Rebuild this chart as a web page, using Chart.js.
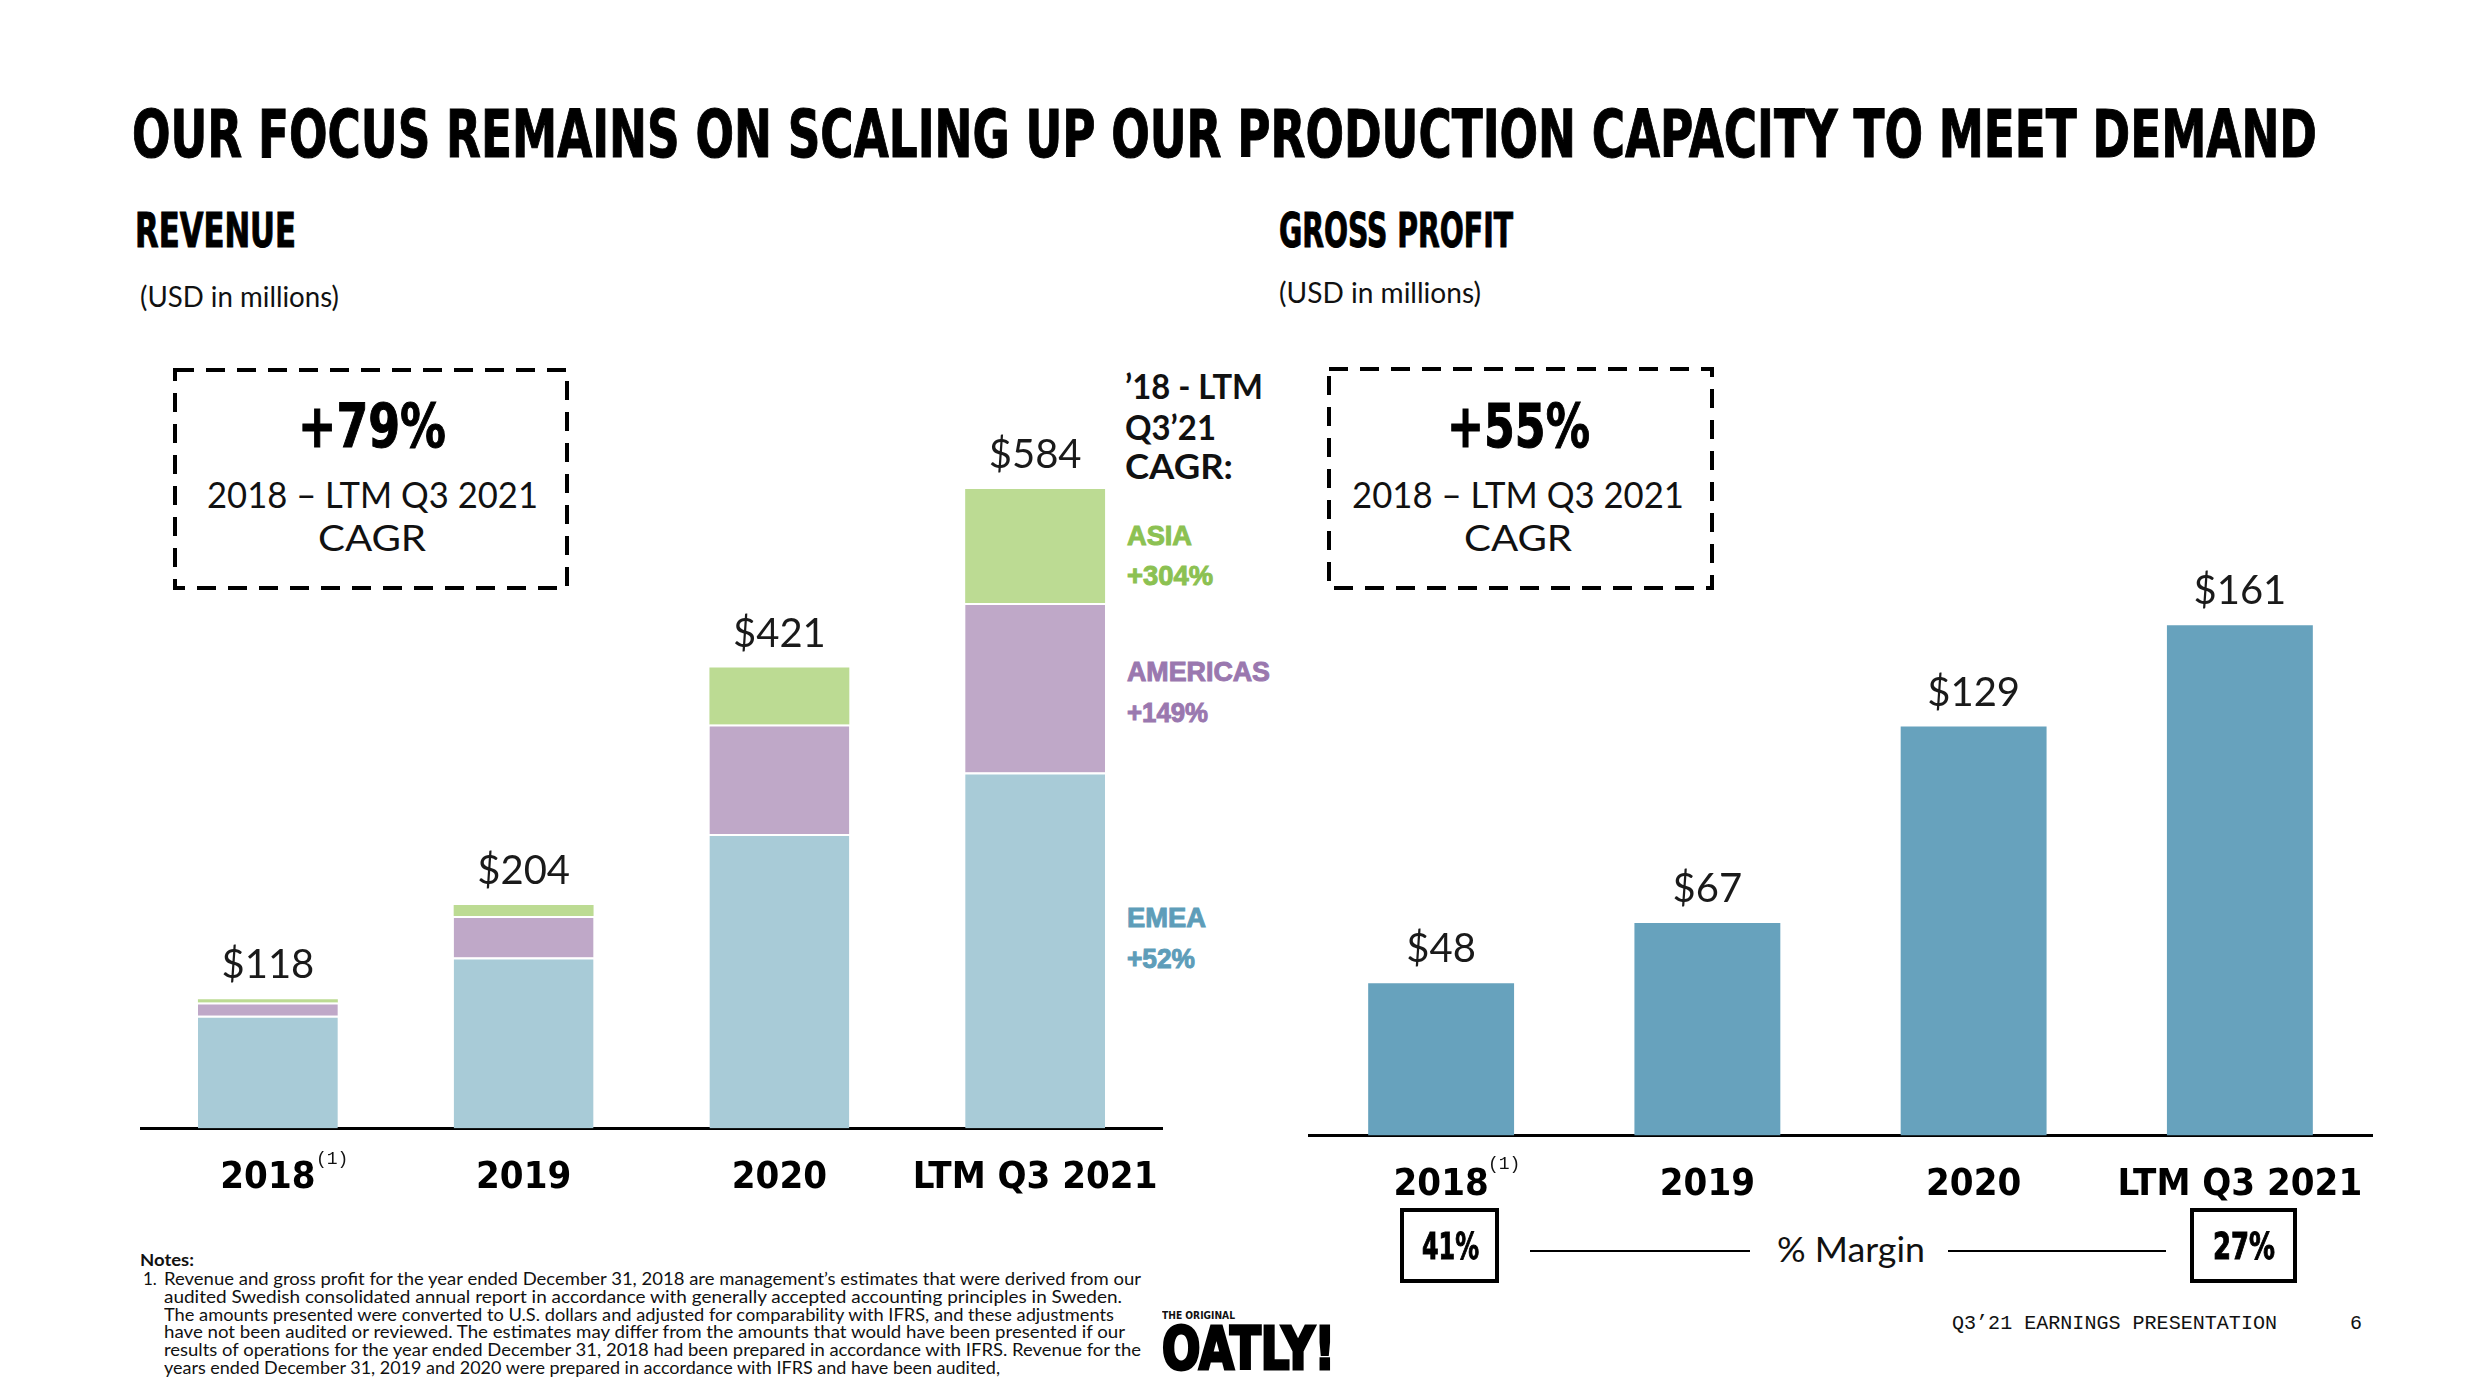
<!DOCTYPE html>
<html>
<head>
<meta charset="utf-8">
<script src="https://cdn.jsdelivr.net/npm/chart.js@4.4.0/dist/chart.umd.min.js"></script>
<style>
  html, body { margin: 0; padding: 0; background: #fff; }
  body { width: 2492px; height: 1400px; position: relative; overflow: hidden; font-family: Lato, 'Open Sans', sans-serif; color: #111; }
  .t { position: absolute; white-space: nowrap; line-height: 1; transform-origin: left center; }
  .heavy { font-family: 'Liberation Sans Narrow', 'DejaVu Sans Condensed', 'Arial Narrow', sans-serif; font-weight: 700; -webkit-text-stroke: 1px #000; color: #000; }
  .geo { font-family: Lato, 'Open Sans', sans-serif; font-weight: 400; }
  .chartBox { position: absolute; }
  .mbox { position: absolute; border: 4px solid #000; box-sizing: border-box; }
  .rule { position: absolute; height: 2px; background: #000; }
</style>
</head>
<body>

<!-- headings -->
<div class="t heavy" style="left:132px; top:102px; font-size:66px;" data-w="2185">OUR FOCUS REMAINS ON SCALING UP OUR PRODUCTION CAPACITY TO MEET DEMAND</div>
<div class="t heavy" style="left:135px; top:206px; font-size:48px;" data-w="161">REVENUE</div>
<div class="t heavy" style="left:1279px; top:206px; font-size:48px;" data-w="234">GROSS PROFIT</div>
<div class="t geo" style="left:140px; top:282px; font-size:28px;" data-w="199">(USD in millions)</div>
<div class="t geo" style="left:1279px; top:278px; font-size:28px;" data-w="202">(USD in millions)</div>

<!-- dashed CAGR boxes -->
<svg style="position:absolute; left:0; top:0;" width="2492" height="1400">
  <rect x="175" y="370" width="392" height="218" fill="none" stroke="#000" stroke-width="4" stroke-dasharray="19 12"/>
  <rect x="1329" y="369" width="383" height="219" fill="none" stroke="#000" stroke-width="4" stroke-dasharray="19 12"/>
</svg>
<div class="t heavy" style="top:396px; font-size:60px;" data-w="148" data-cx="372">+79%</div>
<div class="t geo" style="top:476px; font-size:36px;" data-w="331" data-cx="372">2018 – LTM Q3 2021</div>
<div class="t geo" style="top:519px; font-size:36px;" data-w="108" data-cx="372">CAGR</div>
<div class="t heavy" style="top:396px; font-size:60px;" data-w="143" data-cx="1518">+55%</div>
<div class="t geo" style="top:476px; font-size:36px;" data-w="332" data-cx="1518">2018 – LTM Q3 2021</div>
<div class="t geo" style="top:519px; font-size:36px;" data-w="108" data-cx="1518">CAGR</div>

<!-- region CAGR legend -->
<div class="t" style="left:1125px; top:369px; font-size:34px; font-weight:700;" data-w="138">’18 - LTM</div>
<div class="t" style="left:1125px; top:410px; font-size:34px; font-weight:700;" data-w="91">Q3’21</div>
<div class="t" style="left:1125px; top:449px; font-size:34px; font-weight:700;" data-w="108">CAGR:</div>
<div id="legend"></div>

<!-- charts -->
<div class="chartBox" style="left:140px; top:300px; width:1023px; height:904px;"><canvas id="revenueChart"></canvas></div>
<div class="chartBox" style="left:1308px; top:300px; width:1065px; height:911px;"><canvas id="profitChart"></canvas></div>
<div class="t" style="left:316px; top:1150px; font-size:18px; font-family:'Liberation Mono', monospace;">(1)</div>
<div class="t" style="left:1488px; top:1155px; font-size:18px; font-family:'Liberation Mono', monospace;">(1)</div>

<!-- margin row -->
<div class="mbox" style="left:1400px; top:1208px; width:99px; height:75px;"></div>
<div class="mbox" style="left:2190px; top:1208px; width:107px; height:75px;"></div>
<div class="t heavy" style="top:1227px; font-size:38px;" data-w="57" data-cx="1450" id="m0"></div>
<div class="t heavy" style="top:1227px; font-size:38px;" data-w="62" data-cx="2244" id="m1"></div>
<div class="rule" style="left:1530px; top:1250px; width:220px;"></div>
<div class="rule" style="left:1948px; top:1250px; width:218px;"></div>
<div class="t geo" style="top:1232px; font-size:34px;" data-w="148" data-cx="1851">% Margin</div>

<!-- notes -->
<div id="notes"></div>

<!-- logo + footer -->
<div class="t" style="left:1162px; top:1311px; font-size:10px; font-weight:900; font-family:'DejaVu Sans';" data-w="73">THE ORIGINAL</div>
<div class="t heavy" style="left:1162px; top:1320px; font-size:58px; -webkit-text-stroke:3px #000;" data-w="173">OATLY!</div>
<div class="t" style="left:1952px; top:1314px; font-size:20px; font-family:'Liberation Mono', monospace;" data-w="325">Q3’21 EARNINGS PRESENTATION</div>
<div class="t" style="left:2350px; top:1314px; font-size:20px; font-family:'Liberation Mono', monospace;">6</div>

<script>
const periods = ['2018', '2019', '2020', 'LTM Q3 2021'];
const emea = [103, 156, 269, 325];
const americas = [12, 38, 100, 155];
const asia = [3, 10, 52, 104];
const revenueTotals = [118, 204, 421, 584];
const grossProfit = [48, 67, 129, 161];
const marginLabels = ['41%', '27%'];
const regionNames = ['ASIA', 'AMERICAS', 'EMEA'];
const regionCagr = ['+304%', '+149%', '+52%'];

const BLUE = '#a8cbd7';
const PURPLE = '#bfa8c8';
const GREEN = '#bcdb93';
const PROFIT_BLUE = '#67a2bd';
const regionColors = ['#8cc152', '#9a78af', '#5e9db9'];
const legendTops = [[522, 562], [658, 699], [904, 945]];
const legendWidths = [[65, 86], [143, 81], [79, 68]];

const noteLines = [
  'Revenue and gross profit for the year ended December 31, 2018 are management’s estimates that were derived from our',
  'audited Swedish consolidated annual report in accordance with generally accepted accounting principles in Sweden.',
  'The amounts presented were converted to U.S. dollars and adjusted for comparability with IFRS, and these adjustments',
  'have not been audited or reviewed. The estimates may differ from the amounts that would have been presented if our',
  'results of operations for the year ended December 31, 2018 had been prepared in accordance with IFRS. Revenue for the',
  'years ended December 31, 2019 and 2020 were prepared in accordance with IFRS and have been audited,'
];
const noteWidths = [977, 958, 950, 961, 977, 836];

// legend text
const legend = document.getElementById('legend');
regionNames.forEach((name, i) => {
  [name, regionCagr[i]].forEach((txt, j) => {
    const d = document.createElement('div');
    d.className = 't';
    d.textContent = txt;
    d.style.cssText = `left:1127px; top:${legendTops[i][j]}px; font-size:28px; font-weight:700; font-family:'Liberation Sans', Arial, sans-serif; color:${regionColors[i]}; -webkit-text-stroke:1px ${regionColors[i]};`;
    d.dataset.w = legendWidths[i][j];
    legend.appendChild(d);
  });
});

// notes
const notes = document.getElementById('notes');
notes.innerHTML = `<div class="t" style="left:140px; top:1251px; font-size:17px; font-weight:700;" data-w="54">Notes:</div>
  <div class="t" style="left:143px; top:1270px; font-size:17px;">1.</div>`;
noteLines.forEach((line, i) => {
  const d = document.createElement('div');
  d.className = 't';
  d.textContent = line;
  d.style.cssText = `left:164px; top:${1270 + i * 17.8}px; font-size:17px;`;
  d.dataset.w = noteWidths[i];
  notes.appendChild(d);
});

document.getElementById('m0').textContent = marginLabels[0];
document.getElementById('m1').textContent = marginLabels[1];

// squeeze text to the widths measured on the slide
document.querySelectorAll('[data-w]').forEach(el => {
  const w = el.getBoundingClientRect().width;
  const target = parseFloat(el.dataset.w);
  el.style.transform = `scaleX(${target / w})`;
  if (el.dataset.cx) el.style.left = (parseFloat(el.dataset.cx) - target / 2) + 'px';
});

const tickFont = { family: "'Liberation Sans Narrow', 'DejaVu Sans Condensed', sans-serif", size: 38, weight: 'bold' };

const valueLabels = {
  id: 'valueLabels',
  afterDatasetsDraw(chart, args, opts) {
    const { ctx, scales: { x, y } } = chart;
    ctx.save();
    ctx.font = '40px Lato';
    ctx.fillStyle = '#1a1a1a';
    ctx.textAlign = 'center';
    ctx.textBaseline = 'alphabetic';
    opts.values.forEach((v, i) => {
      const cx = x.getPixelForValue(i);
      const capMid = y.getPixelForValue(v) - 35;
      ctx.fillText('$' + v, cx, capMid + 14);
    });
    ctx.restore();
  }
};

// tick marks are hidden but their length keeps the labels clear of the axis line
function xAxis() {
  return {
    stacked: true,
    grid: { display: false, drawTicks: true, tickLength: 24 },
    border: { display: true, color: '#000', width: 3 },
    ticks: { color: '#000', font: tickFont, padding: 3, maxRotation: 0, minRotation: 0, autoSkip: false }
  };
}

const segBorder = { top: 2, right: 0, bottom: 0, left: 0 };

new Chart(document.getElementById('revenueChart'), {
  type: 'bar',
  data: {
    labels: periods,
    datasets: [
      { label: 'EMEA', data: emea, backgroundColor: BLUE, borderColor: '#fff', borderWidth: segBorder },
      { label: 'Americas', data: americas, backgroundColor: PURPLE, borderColor: '#fff', borderWidth: segBorder },
      { label: 'Asia', data: asia, backgroundColor: GREEN, borderWidth: 0 }
    ]
  },
  options: {
    responsive: true,
    maintainAspectRatio: false,
    animation: false,
    layout: { padding: 0 },
    datasets: { bar: { categoryPercentage: 1, barPercentage: 0.547 } },
    plugins: { legend: { display: false }, tooltip: { enabled: false }, valueLabels: { values: revenueTotals } },
    scales: {
      x: xAxis(),
      y: { stacked: true, display: false, min: 0, max: 756.7 }
    }
  },
  plugins: [valueLabels]
});

new Chart(document.getElementById('profitChart'), {
  type: 'bar',
  data: {
    labels: periods,
    datasets: [{ label: 'Gross profit', data: grossProfit, backgroundColor: PROFIT_BLUE, borderWidth: 0 }]
  },
  options: {
    responsive: true,
    maintainAspectRatio: false,
    animation: false,
    layout: { padding: 0 },
    datasets: { bar: { categoryPercentage: 1, barPercentage: 0.548 } },
    plugins: { legend: { display: false }, tooltip: { enabled: false }, valueLabels: { values: grossProfit } },
    scales: {
      x: xAxis(),
      y: { display: false, min: 0, max: 263.6 }
    }
  },
  plugins: [valueLabels]
});
</script>
</body>
</html>
